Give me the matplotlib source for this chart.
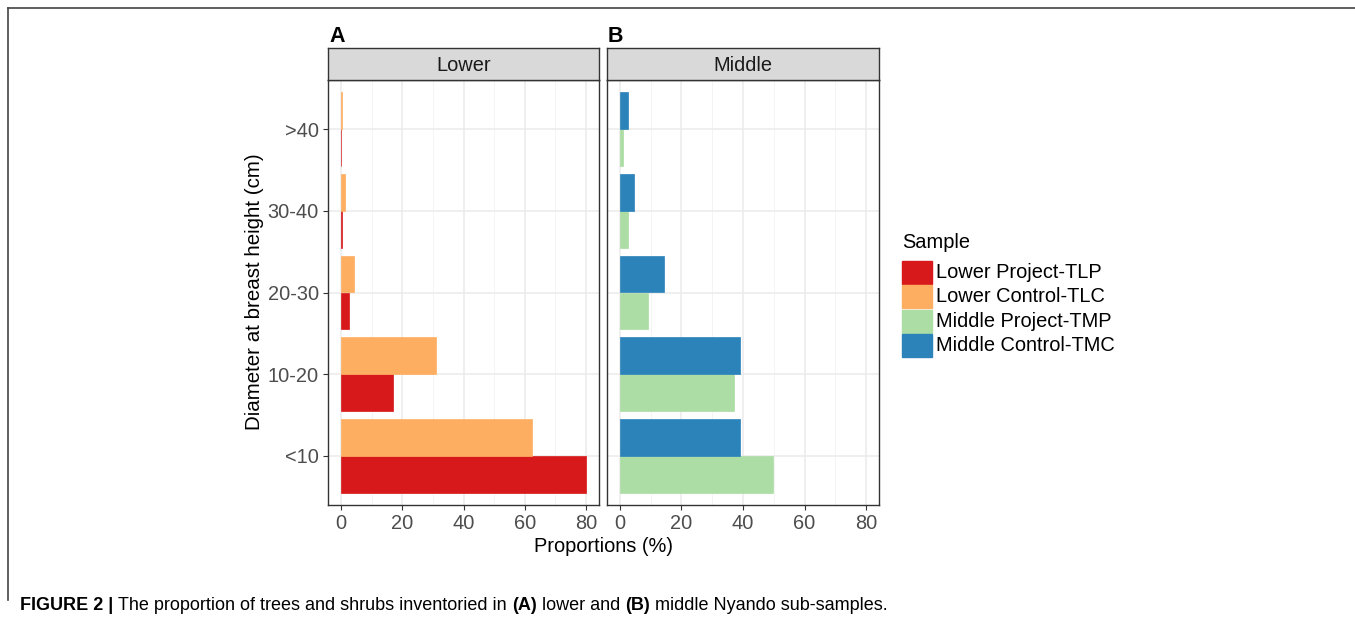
import matplotlib
matplotlib.use("Agg")
import matplotlib.pyplot as plt
from matplotlib.patches import Rectangle
from matplotlib.lines import Line2D
import numpy as np

categories = ['<10', '10-20', '20-30', '30-40', '>40']
lower_project_tlp = [80.0, 16.9, 2.6, 0.4, 0.0]
lower_control_tlc = [62.2, 31.1, 4.2, 1.2, 0.4]
middle_project_tmp = [49.7, 37.1, 9.1, 2.5, 0.9]
middle_control_tmc = [39.1, 39.1, 14.3, 4.5, 2.6]
series_names = ['Lower Project-TLP', 'Lower Control-TLC', 'Middle Project-TMP', 'Middle Control-TMC']
x_ticks = [0, 20, 40, 60, 80]
colors = ['#D7191C', '#FDAE61', '#ABDDA4', '#2B83BA']

plt.rcParams['font.family'] = ['Liberation Sans', 'DejaVu Sans']

W, H = 1355, 623
fig = plt.figure(figsize=(W / 100, H / 100), dpi=100)
FS = 14.4

def fx(px):
    return px / W

def fy(py):
    return 1 - py / H

def add_panel(x0, x1, title, label, data_lo, data_hi, c_lo, c_hi, show_y):
    top, bot = 80, 505
    ax = fig.add_axes([fx(x0), fy(bot), fx(x1 - x0), (bot - top) / H])
    y = np.arange(len(categories))
    h = 0.45
    ax.barh(y - h / 2, data_lo, height=h, color=c_lo, edgecolor=c_lo, linewidth=0.5, zorder=3)
    ax.barh(y + h / 2, data_hi, height=h, color=c_hi, edgecolor=c_hi, linewidth=0.5, zorder=3)
    ax.set_xlim(-4.2, 84.2)
    ax.set_ylim(-0.6, len(categories) - 0.4)
    ax.set_xticks(x_ticks)
    ax.set_xticks([10, 30, 50, 70], minor=True)
    ax.set_yticks(y)
    ax.grid(which='major', color='#EBEBEB', linewidth=1.1, zorder=0)
    ax.grid(which='minor', axis='x', color='#F2F2F2', linewidth=0.6, zorder=0)
    ax.tick_params(axis='both', which='major', length=3.5, width=0.8, color='#333333',
                   labelsize=FS, labelcolor='#4D4D4D', pad=3)
    ax.tick_params(which='minor', length=0)
    ax.set_xticklabels([str(v) for v in x_ticks])
    if show_y:
        ax.set_yticklabels(categories)
    else:
        ax.set_yticklabels([])
        ax.tick_params(axis='y', length=0)
    for s in ax.spines.values():
        s.set_color('#333333')
        s.set_linewidth(1.0)
    ax.set_axisbelow(True)
    # strip
    sax = fig.add_axes([fx(x0), fy(top), fx(x1 - x0), (top - 48) / H])
    sax.set_facecolor('#D9D9D9')
    sax.set_xticks([])
    sax.set_yticks([])
    for s in sax.spines.values():
        s.set_color('#333333')
        s.set_linewidth(1.0)
    sax.text(0.5, 0.45, title, ha='center', va='center', fontsize=FS, color='#1A1A1A',
             transform=sax.transAxes)
    fig.text(fx(x0 + 1), fy(37), label, ha='left', va='center', fontsize=15.5,
             fontweight='bold', color='black')
    return ax

axA = add_panel(328, 599, 'Lower', 'A', lower_project_tlp, lower_control_tlc,
                colors[0], colors[1], True)
axB = add_panel(607, 879, 'Middle', 'B', middle_project_tmp, middle_control_tmc,
                colors[2], colors[3], False)

fig.text(fx(603), fy(546), 'Proportions (%)', ha='center', va='center', fontsize=FS, color='black')
fig.text(fx(255), fy(292), 'Diameter at breast height (cm)', ha='center', va='center',
         rotation=90, fontsize=14.8, color='black')

# legend
fig.text(fx(902), fy(242), 'Sample', ha='left', va='center', fontsize=FS, color='black')
for i, (name, c) in enumerate(zip(series_names, colors)):
    yc = 272 + i * 24.5
    fig.patches.append(Rectangle((fx(902), fy(yc + 11.5)), fx(30), 23 / H, color=c,
                                 transform=fig.transFigure, figure=fig))
    fig.text(fx(936), fy(yc), name, ha='left', va='center', fontsize=FS, color='black')

# outer frame (left and top only)
fig.lines.append(Line2D([fx(8), fx(8)], [fy(8), fy(600)], color='#444444', linewidth=1.2,
                        transform=fig.transFigure, figure=fig))
fig.lines.append(Line2D([fx(8), 1], [fy(8), fy(8)], color='#444444', linewidth=1.2,
                        transform=fig.transFigure, figure=fig))

# caption
pieces = [('FIGURE 2 |', 'bold'), ('The proportion of trees and shrubs inventoried in', 'normal'),
          ('(A)', 'bold'), ('lower and', 'normal'), ('(B)', 'bold'),
          ('middle Nyando sub-samples.', 'normal')]
fig.canvas.draw()
renderer = fig.canvas.get_renderer()
CFS = 13
probe1 = fig.text(0, 0, 'a a', fontsize=CFS)
probe2 = fig.text(0, 0, 'aa', fontsize=CFS)
space_w = probe1.get_window_extent(renderer).width - probe2.get_window_extent(renderer).width
probe1.remove()
probe2.remove()
xpos = 20
for txt, wt in pieces:
    t = fig.text(fx(xpos), fy(606), txt, ha='left', va='center', fontsize=CFS,
                 fontweight=wt, color='black')
    bb = t.get_window_extent(renderer=renderer)
    xpos += bb.width + space_w

fig.savefig('out.png', dpi=100, facecolor='white')
